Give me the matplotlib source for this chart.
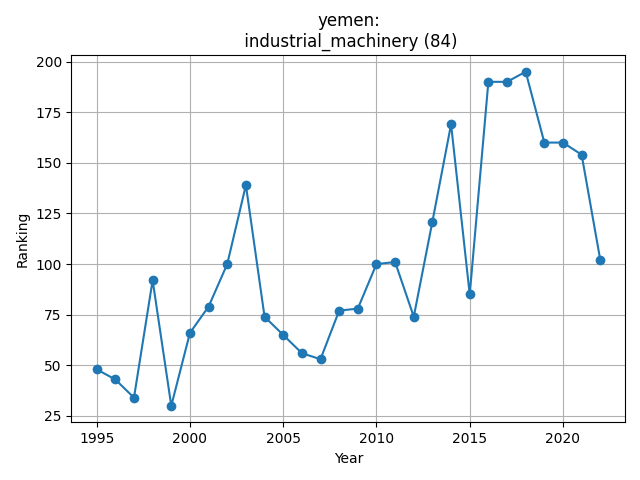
import matplotlib
matplotlib.use("Agg")
import matplotlib.pyplot as plt

years = list(range(1995, 2023))
ranking = [48, 43, 34, 92, 30, 66, 79, 100, 139, 74, 65, 56, 53, 77, 78,
           100, 101, 74, 121, 169, 85, 190, 190, 195, 160, 160, 154, 102]

fig, ax = plt.subplots(figsize=(6.4, 4.8), dpi=100)
ax.plot(years, ranking, marker='o')
ax.set_title('yemen:\n industrial_machinery (84)')
ax.set_xlabel('Year')
ax.set_ylabel('Ranking')
ax.grid(True)
fig.subplots_adjust(left=0.1117, right=0.9773, bottom=0.1198, top=0.8854)
fig.savefig('out.png')
